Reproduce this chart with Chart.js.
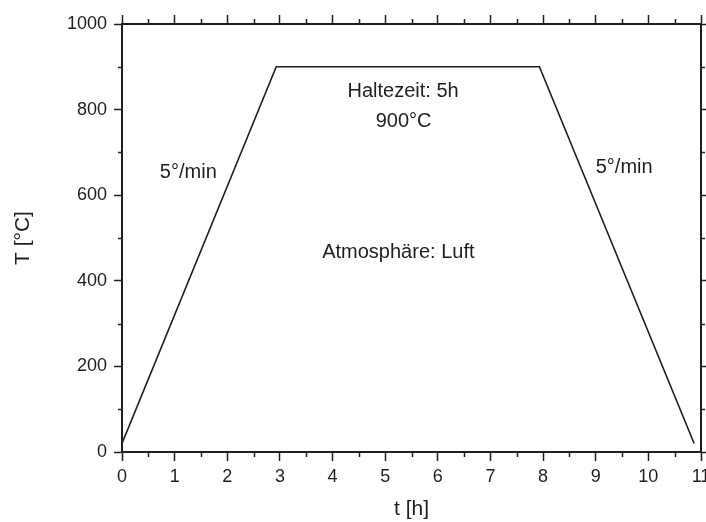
<!DOCTYPE html>
<html>
<head>
<meta charset="utf-8">
<script src="https://cdn.jsdelivr.net/npm/chart.js@4"></script>
<style>
  html, body { margin: 0; padding: 0; background: #fff; }
  #wrap { width: 706px; height: 522px; }
</style>
</head>
<body>
<div id="wrap"><canvas id="myChart" width="706" height="522"></canvas></div>
<script>
/* furnace program */
var timeH = [0, 2.93, 7.93, 10.87];
var tempC = [20, 900, 900, 20];

/* notes placed in data coordinates */
var noteText = ['5°/min', 'Haltezeit: 5h', '900°C', 'Atmosphäre: Luft', '5°/min'];
var noteX = [1.26, 5.34, 5.35, 5.25, 9.54];
var noteY = [654, 842, 773, 466, 665];

var ink = '#1e1e1e';
var font = 'Arial, "Liberation Sans", sans-serif';

var points = timeH.map((t, i) => ({ x: t, y: tempC[i] }));

// short ticks between the labelled ones
var minorTicks = {
  id: 'minorTicks',
  afterDraw: function(chart) {
    var c = chart.ctx;
    c.save();
    c.strokeStyle = ink;
    c.lineWidth = 1.5;
    ['x', 'x2'].forEach((id) => {
      var s = chart.scales[id];
      for (var v = 0.5; v < 11; v += 1) {
        var px = Math.round(s.getPixelForValue(v)) + 0.5;
        var y0 = id == 'x' ? s.top : s.bottom;
        var y1 = id == 'x' ? y0 + 5 : y0 - 5;
        c.beginPath(); c.moveTo(px, y0); c.lineTo(px, y1); c.stroke();
      }
    });
    ['y', 'y2'].forEach((id) => {
      var s = chart.scales[id];
      for (var v = 100; v < 1000; v += 200) {
        var py = Math.round(s.getPixelForValue(v)) + 0.5;
        var x0 = id == 'y' ? s.right : s.left;
        var x1 = id == 'y' ? x0 - 4 : x0 + 4;
        c.beginPath(); c.moveTo(x0, py); c.lineTo(x1, py); c.stroke();
      }
    });
    c.restore();
  }
};

var notes = {
  id: 'notes',
  afterDatasetsDraw: function(chart) {
    var c = chart.ctx;
    var xs = chart.scales.x, ys = chart.scales.y;
    c.save();
    c.fillStyle = ink;
    c.font = '20px ' + font;
    c.textAlign = 'center';
    c.textBaseline = 'middle';
    noteText.forEach((txt, i) => {
      c.fillText(txt, xs.getPixelForValue(noteX[i]), ys.getPixelForValue(noteY[i]));
    });
    c.restore();
  }
};

function fixWidth(w) {
  return function(scale) { scale.width = w; scale.paddingTop = 0; scale.paddingBottom = 0; };
}
function fixHeight(h) {
  return function(scale) { scale.height = h; scale.paddingLeft = 0; scale.paddingRight = 0; };
}
function plain(v) { return String(v); }

var tickFont = { family: font, size: 18 };
var titleFont = { family: font, size: 21 };

var ctx = document.getElementById('myChart').getContext('2d');
var myChart = new Chart(ctx, {
  type: 'line',
  data: {
    datasets: [{
      data: points,
      borderColor: ink,
      borderWidth: 1.6,
      pointRadius: 0,
      tension: 0,
      fill: false
    }]
  },
  options: {
    responsive: false,
    animation: false,
    layout: { padding: 0 },
    plugins: { legend: { display: false }, tooltip: { enabled: false } },
    scales: {
      x: {
        type: 'linear', position: 'bottom', min: 0, max: 11,
        ticks: { stepSize: 1, color: ink, font: tickFont, padding: 5, maxRotation: 0, autoSkip: false, callback: plain },
        grid: { drawOnChartArea: false, tickLength: 9, tickWidth: 1.5, tickColor: ink },
        border: { color: ink, width: 2 },
        title: { display: true, text: 't [h]', color: ink, font: titleFont, padding: { top: 0, bottom: 0 } },
        afterFit: fixHeight(70)
      },
      x2: {
        type: 'linear', position: 'top', min: 0, max: 11,
        ticks: { stepSize: 1, display: false },
        grid: { drawOnChartArea: false, tickLength: 9, tickWidth: 1.5, tickColor: ink },
        border: { color: ink, width: 2 },
        afterFit: fixHeight(24)
      },
      y: {
        type: 'linear', position: 'left', min: 0, max: 1000,
        ticks: { stepSize: 200, color: ink, font: tickFont, padding: 7, callback: plain },
        grid: { drawOnChartArea: false, tickLength: 8, tickWidth: 1.5, tickColor: ink },
        border: { color: ink, width: 2 },
        title: { display: true, text: 'T [°C]', color: ink, font: titleFont, padding: { top: 11, bottom: 0 } },
        afterFit: fixWidth(122)
      },
      y2: {
        type: 'linear', position: 'right', min: 0, max: 1000,
        ticks: { stepSize: 200, display: false },
        grid: { drawOnChartArea: false, tickLength: 6, tickWidth: 1.5, tickColor: ink },
        border: { color: ink, width: 2 },
        afterFit: fixWidth(5)
      }
    }
  },
  plugins: [minorTicks, notes]
});
</script>
</body>
</html>
